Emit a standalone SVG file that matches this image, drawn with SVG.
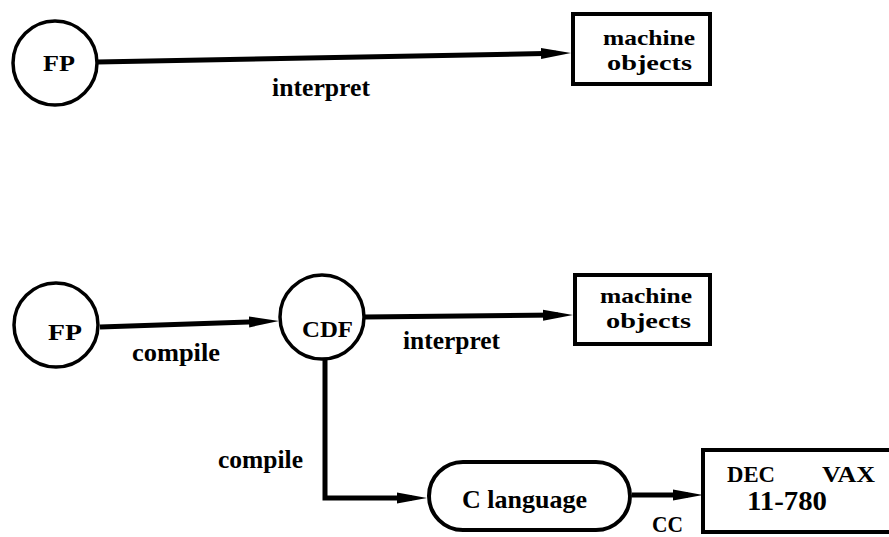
<svg xmlns="http://www.w3.org/2000/svg" width="889" height="537" viewBox="0 0 889 537">
  <style>
    .node { fill: #fff; stroke: #000; }
    .circ { stroke-width: 3.5; }
    .box { stroke-width: 4; }
    .edge { fill: none; stroke: #000; stroke-width: 5; }
    text { font-family: "Liberation Serif", "Times New Roman", serif; font-weight: bold; fill: #000; }
    .cap { font-size: 23px; }
    .low { font-size: 26px; }
    .inbox { font-size: 22px; }
    .num { font-size: 27px; }
  </style>
  <defs>
    <marker id="arrow" viewBox="0 0 30 12" refX="15" refY="6" markerWidth="30" markerHeight="12" markerUnits="userSpaceOnUse" orient="auto">
      <path d="M0,0.5 L30,6 L0,11.5 z" fill="#000"/>
    </marker>
  </defs>

  <!-- connectors -->
  <g id="connectors">
    <line class="edge" x1="97" y1="62" x2="556" y2="53.3" marker-end="url(#arrow)"/>
    <line class="edge" x1="100" y1="327" x2="264" y2="321.4" marker-end="url(#arrow)"/>
    <line class="edge" x1="364" y1="317" x2="558" y2="315.1" marker-end="url(#arrow)"/>
    <polyline class="edge" points="325,358 325,498 412,498" marker-end="url(#arrow)"/>
    <line class="edge" x1="632" y1="495" x2="688" y2="495" marker-end="url(#arrow)"/>
  </g>

  <!-- edge labels -->
  <g id="edge-labels">
    <text class="low" x="272" y="96" textLength="98" lengthAdjust="spacingAndGlyphs">interpret</text>
    <text class="low" x="132" y="361" textLength="88" lengthAdjust="spacingAndGlyphs">compile</text>
    <text class="low" x="403" y="349" textLength="97" lengthAdjust="spacingAndGlyphs">interpret</text>
    <text class="low" x="218" y="468" textLength="85" lengthAdjust="spacingAndGlyphs">compile</text>
    <text class="cap" x="652" y="532" textLength="31" lengthAdjust="spacingAndGlyphs">CC</text>
  </g>

  <!-- top row -->
  <g id="fp-top">
    <circle class="node circ" cx="55" cy="63" r="42"/>
    <text class="cap" x="43" y="71" textLength="32" lengthAdjust="spacingAndGlyphs">FP</text>
  </g>
  <g id="machine-top">
    <rect class="node box" x="573" y="14" width="137" height="70"/>
    <text class="inbox" x="603" y="45" textLength="92" lengthAdjust="spacingAndGlyphs">machine</text>
    <text class="inbox" x="607" y="70" textLength="85" lengthAdjust="spacingAndGlyphs">objects</text>
  </g>

  <!-- bottom row -->
  <g id="fp-bottom">
    <circle class="node circ" cx="56" cy="325" r="42"/>
    <text class="cap" x="48" y="340" textLength="34" lengthAdjust="spacingAndGlyphs">FP</text>
  </g>
  <g id="cdf">
    <circle class="node circ" cx="322" cy="317" r="42"/>
    <text class="cap" x="302" y="337" textLength="51" lengthAdjust="spacingAndGlyphs">CDF</text>
  </g>
  <g id="machine-bottom">
    <rect class="node box" x="575" y="275" width="135" height="69"/>
    <text class="inbox" x="600" y="303" textLength="92" lengthAdjust="spacingAndGlyphs">machine</text>
    <text class="inbox" x="606" y="328" textLength="85" lengthAdjust="spacingAndGlyphs">objects</text>
  </g>
  <g id="c-language">
    <rect class="node box" x="429" y="462" width="201" height="68" rx="34" ry="34"/>
    <text class="low" x="462" y="508" textLength="125" lengthAdjust="spacingAndGlyphs">C language</text>
  </g>
  <g id="dec-vax">
    <rect class="node box" x="703" y="450" width="200" height="82"/>
    <text class="cap" x="727" y="482" textLength="48" lengthAdjust="spacingAndGlyphs">DEC</text>
    <text class="cap" x="822" y="482" textLength="53" lengthAdjust="spacingAndGlyphs">VAX</text>
    <text class="num" x="747" y="510" textLength="80" lengthAdjust="spacingAndGlyphs">11-780</text>
  </g>
</svg>
